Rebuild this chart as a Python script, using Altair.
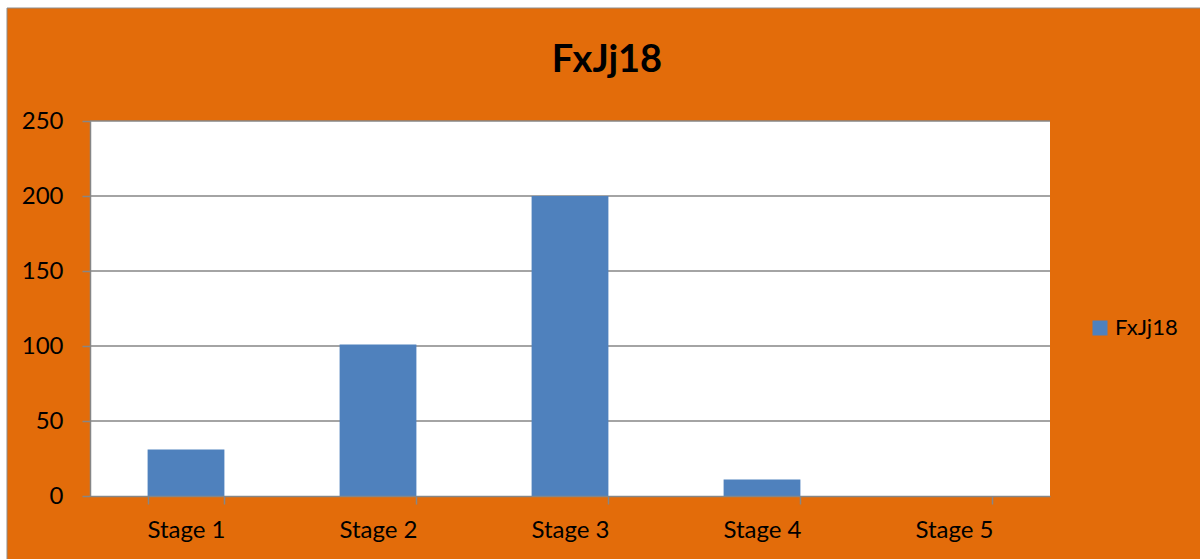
import altair as alt
import pandas as pd

# Chart content
TITLE = "FxJj18"
SERIES = "FxJj18"
STAGES = ["Stage 1", "Stage 2", "Stage 3", "Stage 4", "Stage 5"]
VALUES = [31, 101, 200, 11, 0]
Y_TICKS = [0, 50, 100, 150, 200, 250]
GRID_LINES = [50, 100, 150, 200, 250]

# Styling
ORANGE = "#E36C0A"
BAR_BLUE = "#4F81BD"
LINE_GREY = "#868686"
FONT = "Lato"

PLOT_W, PLOT_H = 960, 375

bars_df = pd.DataFrame({"stage": STAGES, "value": VALUES, "series": [SERIES] * len(STAGES)})
grid_df = pd.DataFrame({"value": GRID_LINES})
one_row = pd.DataFrame({"label": [TITLE]})

y_scale = alt.Scale(domain=[Y_TICKS[0], Y_TICKS[-1]], nice=False, zero=True)
y_axis = alt.Axis(values=Y_TICKS, tickSize=8, labelPadding=19, grid=False, zindex=1)

# Orange chart frame with a thin grey border
frame = alt.Chart(one_row).mark_rect(
    fill=ORANGE, stroke="#8C8C8C", strokeWidth=1
).encode(
    x=alt.value(-83), x2=alt.value(1160), y=alt.value(-113), y2=alt.value(480)
)

# White plot area
plot_bg = alt.Chart(one_row).mark_rect(fill="white").encode(
    x=alt.value(0), x2=alt.value(PLOT_W), y=alt.value(0), y2=alt.value(PLOT_H)
)

# Horizontal gridlines behind the bars
grid = alt.Chart(grid_df).mark_rule(color=LINE_GREY, strokeWidth=1.5).encode(
    y=alt.Y("value:Q", scale=y_scale, title=None, axis=y_axis)
)

bars = alt.Chart(bars_df).mark_bar().encode(
    x=alt.X(
        "stage:N",
        sort=STAGES,
        title=None,
        scale=alt.Scale(paddingInner=0.6, paddingOuter=0.3),
        axis=alt.Axis(
            labelAngle=0,
            tickBand="extent",
            tickSize=8,
            labelPadding=14,
            grid=False,
            zindex=1,
        ),
    ),
    y=alt.Y("value:Q", scale=y_scale, title=None, axis=y_axis),
    color=alt.Color(
        "series:N",
        scale=alt.Scale(range=[BAR_BLUE]),
        legend=alt.Legend(
            title=None,
            orient="none",
            legendX=999,
            legendY=196,
            symbolType="square",
            symbolSize=225,
            symbolStrokeWidth=0,
            labelFontSize=22,
            labelFont=FONT,
            labelColor="black",
            labelOffset=4,
            padding=0,
        ),
    ),
)

title = alt.Chart(one_row).mark_text(
    font=FONT, fontSize=38, fontWeight="bold", color="black",
    align="center", baseline="alphabetic",
).encode(
    text="label:N", x=alt.value(517), y=alt.value(-49)
)

chart = alt.layer(frame, plot_bg, grid, bars, title).properties(
    width=PLOT_W,
    height=PLOT_H,
    background="white",
    padding={"left": 90, "top": 121, "right": 150, "bottom": 63},
    autosize=alt.AutoSizeParams(type="none"),
).configure_view(
    stroke=None
).configure_axis(
    domainColor=LINE_GREY,
    tickColor=LINE_GREY,
    domainWidth=1.5,
    tickWidth=1.5,
    labelFont=FONT,
    labelFontSize=24,
    labelColor="black",
)

chart.save("out.html", embed_options={"renderer": "svg", "actions": False})
